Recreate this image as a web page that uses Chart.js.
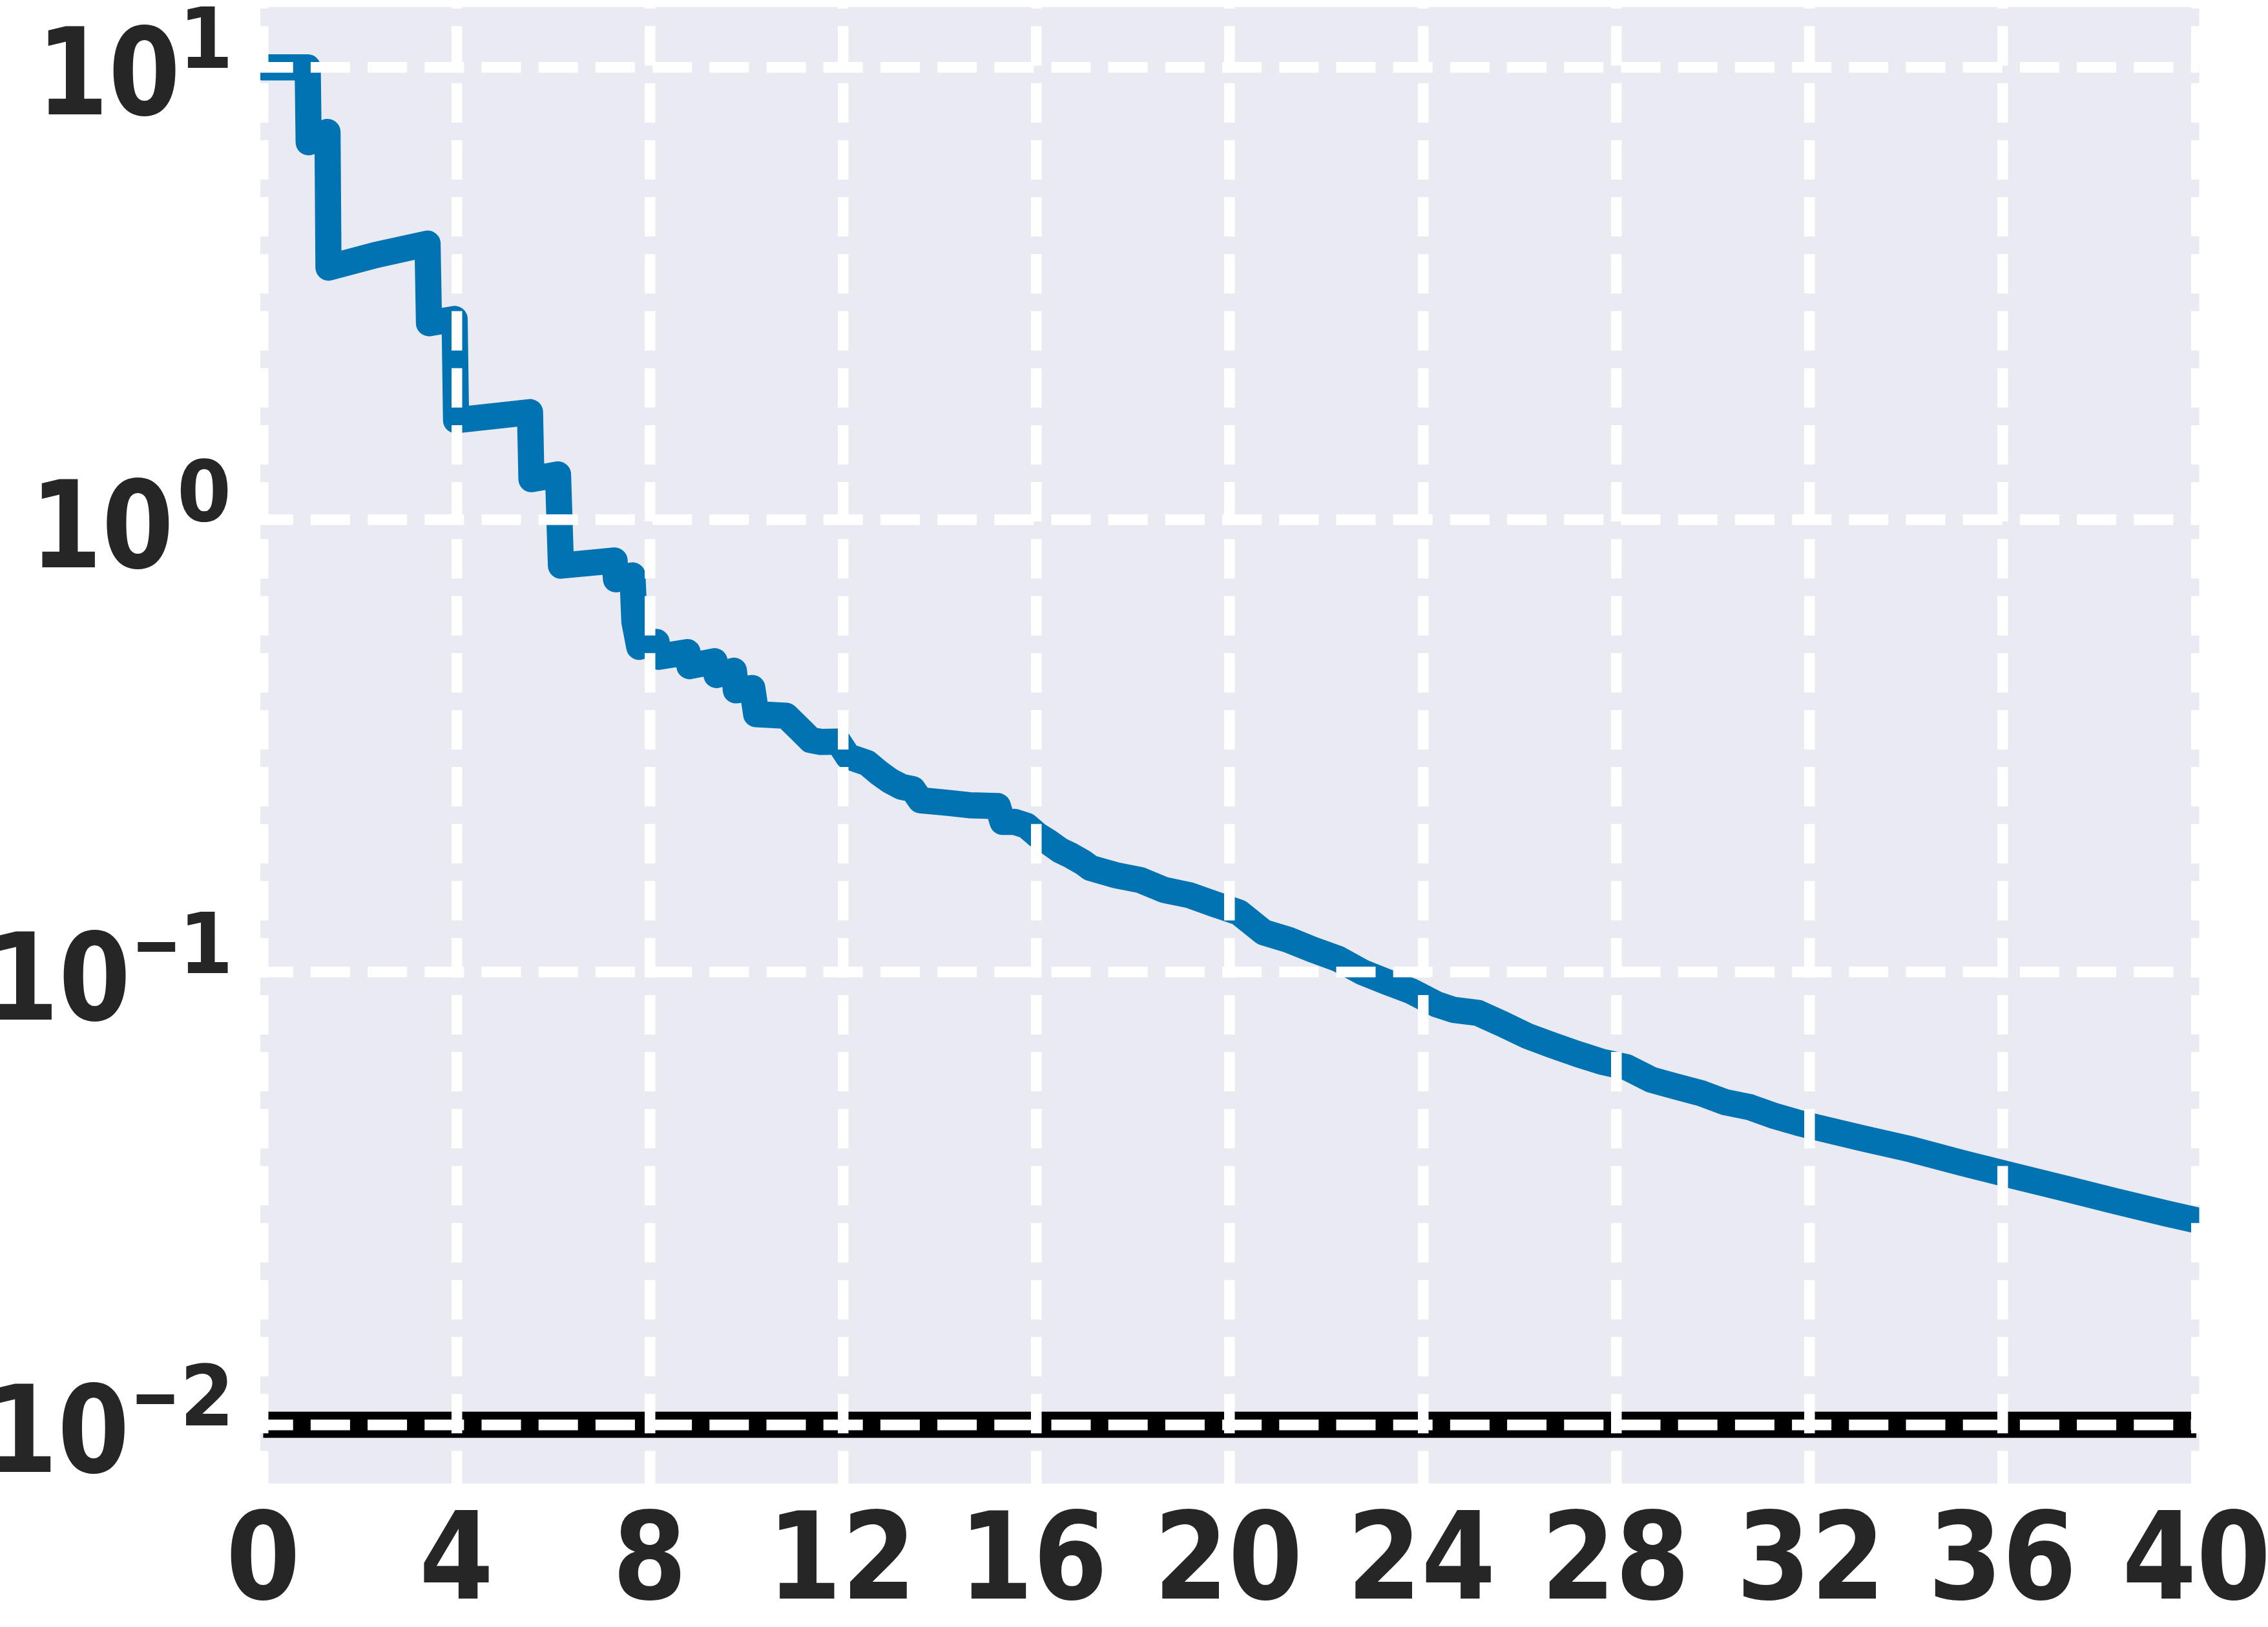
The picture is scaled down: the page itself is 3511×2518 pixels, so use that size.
<!DOCTYPE html>
<html>
<head>
<meta charset="utf-8">
<script src="https://cdn.jsdelivr.net/npm/chart.js@4.4.0/dist/chart.umd.min.js"></script>
<style>
  html, body { margin: 0; padding: 0; background: #ffffff; }
  canvas { display: block; }
</style>
</head>
<body>
<canvas id="c" width="3511" height="2518" style="width:3511px;height:2518px"></canvas>
<script>
// ---- data ----
const gapX = [
  0, 0.92, 0.94, 1.33, 1.35, 2.33, 3.40, 3.43, 3.96, 3.99,
  5.52, 5.55, 6.10, 6.16, 7.27, 7.30, 7.64, 7.68, 7.78, 8.14,
  8.18, 8.78, 8.82, 9.34, 9.38, 9.74, 9.78, 10.12, 10.20, 10.82,
  11.10, 11.33, 11.54, 11.90, 12.10, 12.50, 12.74, 12.97, 13.21, 13.44,
  13.60, 14.15, 14.61, 15.20, 15.30, 15.55, 15.79, 16.02, 16.25, 16.49,
  16.72, 16.96, 17.12, 17.63, 18.14, 18.65, 19.17, 19.68, 20.19, 20.70,
  21.21, 21.72, 22.24, 22.75, 23.26, 23.77, 24.28, 24.63, 25.14, 25.65,
  26.16, 26.67, 27.19, 27.70, 28.21, 28.72, 29.23, 29.74, 30.26, 30.77,
  31.28, 31.79, 32.11, 33.04, 34.10, 35.15, 36.21, 37.27, 38.32, 39.38,
  40.00
];
const gapValues = [
  10.0, 10.0, 6.83, 7.20, 3.61, 3.85, 4.08, 2.72, 2.78, 1.66,
  1.73, 1.23, 1.26, 0.792, 0.813, 0.739, 0.754, 0.596, 0.524, 0.537,
  0.498, 0.510, 0.475, 0.487, 0.454, 0.464, 0.420, 0.425, 0.372, 0.369,
  0.345, 0.326, 0.323, 0.3235, 0.300, 0.290, 0.276, 0.265, 0.257, 0.254,
  0.240, 0.237, 0.234, 0.233, 0.215, 0.215, 0.211, 0.201, 0.194, 0.186,
  0.181, 0.175, 0.170, 0.164, 0.160, 0.152, 0.148, 0.1415, 0.1356, 0.1226,
  0.118, 0.1122, 0.1071, 0.100, 0.0951, 0.0907, 0.0850, 0.0826, 0.0813, 0.0768,
  0.0723, 0.0690, 0.0660, 0.0634, 0.0617, 0.0579, 0.0559, 0.0541, 0.0516, 0.0503,
  0.0481, 0.0464, 0.0455, 0.0431, 0.0406, 0.0379, 0.0355, 0.0333, 0.0312, 0.0293,
  0.0283
];
const refX = [0, 40];
const refValues = [0.01, 0.01];
const xTickValues = [0, 4, 8, 12, 16, 20, 24, 28, 32, 36, 40];
const yTickValues = [0.01, 0.1, 1, 10];

// ---- styling ----
const FAMILY = '"DejaVu Sans", sans-serif';
const TEXT_COLOR = '#262626';
const MAIN_FONT = 'bold 188px ' + FAMILY;
const SUP_FONT = 'bold 130px ' + FAMILY;
const X_SQUEEZE = 0.88;   // the reference face is a narrow bold sans
const Y_SQUEEZE = 0.85;
const SUP_SQUEEZE = 0.93;
const MINUS_INK = 59;

function drawSqueezed(ctx, text, inkLeft, baseline, sx) {
  const m = ctx.measureText(text);
  ctx.save();
  ctx.translate(inkLeft, baseline);
  ctx.scale(sx, 1);
  ctx.fillText(text, m.actualBoundingBoxLeft, 0);
  ctx.restore();
}
function inkWidth(ctx, text, sx) {
  const m = ctx.measureText(text);
  return (m.actualBoundingBoxLeft + m.actualBoundingBoxRight) * sx;
}

const plotBg = {
  id: 'plotBg',
  beforeDraw(chart) {
    const a = chart.chartArea, ctx = chart.ctx;
    ctx.save();
    ctx.fillStyle = '#EAEAF2';
    ctx.fillRect(a.left, a.top, a.right - a.left, a.bottom - a.top);
    ctx.restore();
  }
};

const axisLabels = {
  id: 'axisLabels',
  afterDraw(chart) {
    const ctx = chart.ctx, ys = chart.scales.y, xs = chart.scales.x;
    ctx.save();
    ctx.fillStyle = TEXT_COLOR;
    ctx.textAlign = 'left';
    ctx.textBaseline = 'alphabetic';
    // y tick labels: 10 with a raised exponent, right-aligned
    const rightInk = 353, gap = 18, minusGap = 18;
    for (const t of ys.ticks) {
      const py = ys.getPixelForValue(t.value);
      const e = Math.round(Math.log10(t.value));
      const digits = String(Math.abs(e));
      ctx.font = SUP_FONT;
      const dw = inkWidth(ctx, digits, SUP_SQUEEZE);
      let left = rightInk - dw;
      drawSqueezed(ctx, digits, left, py + 1, SUP_SQUEEZE);
      if (e < 0) {
        const raw = inkWidth(ctx, '\u2212', 1);
        const msx = MINUS_INK / raw;
        left = left - minusGap - MINUS_INK;
        drawSqueezed(ctx, '\u2212', left, py + 1, msx);
      }
      ctx.font = MAIN_FONT;
      const mw = inkWidth(ctx, '10', Y_SQUEEZE);
      drawSqueezed(ctx, '10', left - gap - mw, py + 73, Y_SQUEEZE);
    }
    // x tick labels, centred under each tick
    ctx.font = MAIN_FONT;
    for (const t of xs.ticks) {
      const px = xs.getPixelForValue(t.value);
      const label = String(t.value);
      const w = inkWidth(ctx, label, X_SQUEEZE);
      drawSqueezed(ctx, label, px - w / 2, 2474, X_SQUEEZE);
    }
    ctx.restore();
  }
};

const ctx = document.getElementById('c').getContext('2d');
new Chart(ctx, {
  type: 'line',
  data: {
    datasets: [
      {
        data: refX.map((x, i) => ({ x, y: refValues[i] })),
        borderColor: '#000000',
        borderWidth: 40.5,
        pointRadius: 0,
        borderCapStyle: 'butt',
        fill: false
      },
      {
        data: gapX.map((x, i) => ({ x, y: gapValues[i] })),
        borderColor: '#0173B2',
        borderWidth: 40.5,
        pointRadius: 0,
        tension: 0,
        borderJoinStyle: 'round',
        borderCapStyle: 'round',
        fill: false
      }
    ]
  },
  options: {
    responsive: false,
    devicePixelRatio: 1,
    animation: false,
    layout: { padding: { left: 0, top: 11, right: 106.5, bottom: 0 } },
    plugins: { legend: { display: false }, tooltip: { enabled: false } },
    scales: {
      x: {
        type: 'linear',
        bounds: 'data',
        min: -0.0602,
        max: 40.0602,
        afterBuildTicks(s) { s.ticks = xTickValues.map(v => ({ value: v })); },
        afterFit(s) { s.height = 222; s.paddingLeft = 0; s.paddingRight = 0; },
        grid: { color: '#ffffff', lineWidth: 16.5, z: 1, drawTicks: false },
        border: { display: false, dash: [61, 27.2], dashOffset: 58.7 },
        ticks: { display: false, callback: v => String(v) }
      },
      y: {
        type: 'logarithmic',
        bounds: 'data',
        min: 0.0074123,
        max: 13.593,
        afterBuildTicks(s) { s.ticks = yTickValues.map(v => ({ value: v })); },
        afterFit(s) { s.width = 403; s.paddingTop = 0; s.paddingBottom = 0; },
        grid: { color: '#ffffff', lineWidth: 16.5, z: 1, drawTicks: false },
        border: { display: false, dash: [61, 27.2], dashOffset: 10.3 },
        ticks: { display: false }
      }
    }
  },
  plugins: [plotBg, axisLabels]
});
</script>
</body>
</html>
